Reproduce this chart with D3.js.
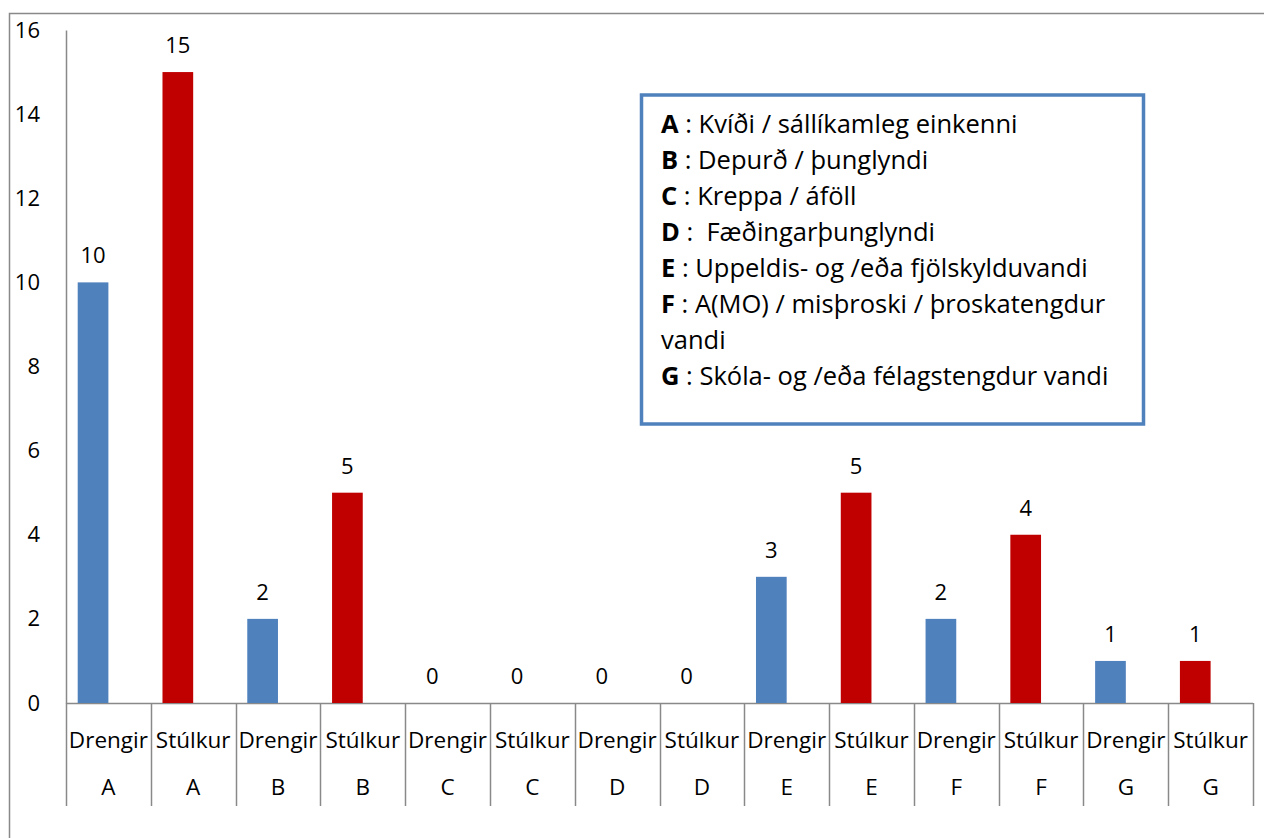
<!DOCTYPE html>
<html>
<head>
<meta charset="utf-8">
<script src="https://cdn.jsdelivr.net/npm/d3@7"></script>
<style>
  body { margin: 0; background: #fff; }
  svg text { font-family: "Open Sans", Lato, sans-serif; fill: #000; }
</style>
</head>
<body>
<svg id="chart"></svg>
<script>
// data
var groups = ["A", "B", "C", "D", "E", "F", "G"];
var sexes = ["Drengir", "Stúlkur"];
var drengir = [10, 2, 0, 0, 3, 2, 1];
var stulkur = [15, 5, 0, 0, 5, 4, 1];
var yTicks = [0, 2, 4, 6, 8, 10, 12, 14, 16];

var legendKeys = ["A", "B", "C", "D", "E", "F", "", "G"];
var legendTexts = [
  " : Kvíði / sállíkamleg einkenni",
  " : Depurð / þunglyndi",
  " : Kreppa / áföll",
  " :  Fæðingarþunglyndi",
  " : Uppeldis- og /eða fjölskylduvandi",
  " : A(MO) / misþroski / þroskatengdur",
  "vandi",
  " : Skóla- og /eða félagstengdur vandi"
];

var screen = {width: 1264, height: 838};
var plot = {left: 66, right: 1253, top: 30, bottom: 703};
var colors = {Drengir: "#4F81BD", "Stúlkur": "#C00000"};
var axisGray = "#898989";

// flatten to one row per bar
var rows = [];
groups.forEach(function(g, i) {
  rows.push({group: g, sex: "Drengir", value: drengir[i], key: g + "-Drengir"});
  rows.push({group: g, sex: "Stúlkur", value: stulkur[i], key: g + "-Stúlkur"});
});

var svg = d3.select("#chart")
  .attr("width", screen.width)
  .attr("height", screen.height);

// outer chart frame (only top and left edges are visible in the picture)
svg.append("path")
  .attr("d", "M9.5,838 V13.5 H1264")
  .attr("fill", "none")
  .attr("stroke", axisGray)
  .attr("stroke-width", 1.5);

var xScale = d3.scaleBand()
  .domain(rows.map(function(d) { return d.key; }))
  .range([plot.left, plot.right])
  .padding(0);

var yScale = d3.scaleLinear()
  .domain([0, 16])
  .range([plot.bottom, plot.top]);

var bw = xScale.bandwidth();
var barOffset = bw * 0.138;
var barWidth = bw * 0.362;

// y axis
var yAxis = d3.axisLeft(yScale).tickValues(yTicks).tickSize(0).tickPadding(26);
var yg = svg.append("g")
  .attr("transform", "translate(" + plot.left + ",0)")
  .call(yAxis);
yg.select(".domain").attr("stroke", axisGray).attr("stroke-width", 1.5);
yg.selectAll("text").attr("font-size", 22).attr("font-family", "'Open Sans', sans-serif").attr("fill", "#000");

// x axis line
svg.append("line")
  .attr("x1", plot.left).attr("x2", plot.right)
  .attr("y1", plot.bottom + 0.5).attr("y2", plot.bottom + 0.5)
  .attr("stroke", axisGray).attr("stroke-width", 1.5);

// category separators
var bounds = rows.map(function(d) { return xScale(d.key); }).concat([plot.right]);
svg.append("g").selectAll("line")
  .data(bounds)
  .enter()
  .append("line")
  .attr("x1", function(d) { return Math.round(d) + 0.5; })
  .attr("x2", function(d) { return Math.round(d) + 0.5; })
  .attr("y1", plot.bottom)
  .attr("y2", 806)
  .attr("stroke", axisGray)
  .attr("stroke-width", 1.5);

// inner and outer category labels
var labels = svg.append("g").attr("font-size", 22.5);
labels.selectAll("text.sex")
  .data(rows)
  .enter()
  .append("text")
  .attr("class", "sex")
  .attr("x", function(d) { return xScale(d.key) + bw / 2; })
  .attr("y", 748)
  .attr("text-anchor", "middle")
  .text(function(d) { return d.sex; });

labels.selectAll("text.grp")
  .data(rows)
  .enter()
  .append("text")
  .attr("class", "grp")
  .attr("x", function(d) { return xScale(d.key) + bw / 2; })
  .attr("y", 795)
  .attr("text-anchor", "middle")
  .text(function(d) { return d.group; });

// bars
svg.append("g").selectAll("rect")
  .data(rows)
  .enter()
  .append("rect")
  .attr("x", function(d) { return xScale(d.key) + barOffset; })
  .attr("width", barWidth)
  .attr("y", function(d) { return yScale(d.value); })
  .attr("height", function(d) { return yScale(0) - yScale(d.value); })
  .attr("fill", function(d) { return colors[d.sex]; });

// value labels
svg.append("g").selectAll("text")
  .data(rows)
  .enter()
  .append("text")
  .attr("x", function(d) { return xScale(d.key) + barOffset + barWidth / 2; })
  .attr("y", function(d) { return yScale(d.value) - 19; })
  .attr("text-anchor", "middle")
  .attr("font-size", 22)
  .text(function(d) { return d.value; });

// legend box
var legend = svg.append("g").attr("id", "legend");
legend.append("rect")
  .attr("x", 641.5).attr("y", 95)
  .attr("width", 502).attr("height", 329)
  .attr("fill", "#fff")
  .attr("stroke", "#4F81BD")
  .attr("stroke-width", 3.5);

var lines = legend.selectAll("text")
  .data(legendTexts)
  .enter()
  .append("text")
  .attr("x", 661)
  .attr("y", function(d, i) { return 133 + i * 36; })
  .attr("font-size", 25.5);

lines.append("tspan")
  .attr("font-weight", "bold")
  .text(function(d, i) { return legendKeys[i]; });
lines.append("tspan")
  .attr("xml:space", "preserve")
  .style("white-space", "pre")
  .text(function(d) { return d; });
</script>
</body>
</html>
